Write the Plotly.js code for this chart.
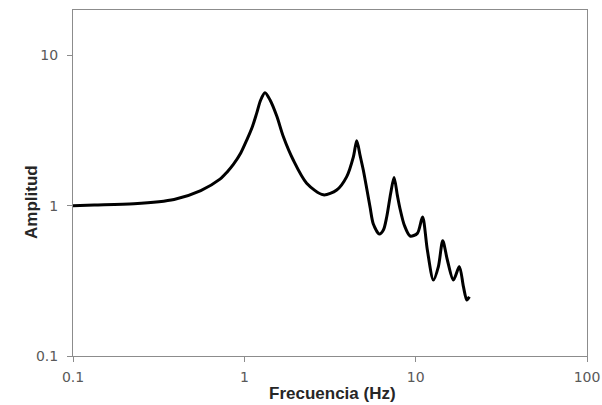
<!DOCTYPE html>
<html>
<head>
<meta charset="utf-8">
<script src="https://cdn.plot.ly/plotly-3.0.1.min.js"></script>
<style>
  html, body { margin: 0; padding: 0; background: #ffffff; }
  #chart { width: 602px; height: 405px; }
</style>
</head>
<body>
<div id="chart"></div>
<script>
// Frequency (Hz)
var frecuencia = [0.1, 0.133, 0.227, 0.389, 0.557, 0.721, 0.792, 0.863, 0.953, 1.033,
  1.114, 1.18, 1.246, 1.32, 1.413, 1.546, 1.69, 1.93, 2.31,
  2.89, 3.46, 3.96, 4.33, 4.53, 4.74, 4.95, 5.18, 5.42, 5.66,
  6.14, 6.48, 6.78, 7.15, 7.48, 7.82, 8.11, 8.59, 9.28, 10.23,
  10.97, 11.7, 12.69, 13.57, 14.39, 15.31, 16.6, 17.99, 19.0, 19.88,
  20.58];
// Amplitude
var amplitud = [1.00, 1.01, 1.03, 1.10, 1.26, 1.50, 1.67, 1.88, 2.24, 2.73,
  3.35, 4.11, 5.04, 5.63, 5.04, 3.94, 2.87, 2.01, 1.41,
  1.18, 1.27, 1.56, 2.11, 2.70, 2.15, 1.72, 1.30, 0.975, 0.755,
  0.647, 0.688, 0.844, 1.21, 1.54, 1.17, 0.95, 0.74, 0.628, 0.654,
  0.84, 0.507, 0.32, 0.393, 0.584, 0.435, 0.32, 0.393, 0.289, 0.236,
  0.248];

var xTickVals = [0.1, 1, 10, 100];
var xTickText = ['0.1', '1', '10', '100'];
var yTickVals = [0.1, 1, 10];
var yTickText = ['0.1', '1', '10'];

var xTitle = 'Frecuencia (Hz)';
var yTitle = 'Amplitud';

var axisColor = '#8c8c8c';
var tickFont = {family: 'DejaVu Sans', size: 14, color: '#595959'};
var titleFont = {family: 'Liberation Sans, Arial, sans-serif', size: 17, color: '#262626', weight: 'bold'};

var trace = {
  x: frecuencia,
  y: amplitud,
  type: 'scatter',
  mode: 'lines',
  line: {color: '#000000', width: 3, shape: 'spline', smoothing: 0.8},
  hoverinfo: 'skip'
};

var layout = {
  width: 602,
  height: 405,
  margin: {l: 73, r: 15, t: 10, b: 49},
  paper_bgcolor: '#ffffff',
  plot_bgcolor: '#ffffff',
  showlegend: false,
  xaxis: {
    type: 'log',
    range: [-1, 2],
    tickvals: xTickVals,
    ticktext: xTickText,
    ticks: 'outside',
    ticklen: 5,
    tickwidth: 1,
    tickcolor: axisColor,
    showline: true,
    linecolor: axisColor,
    linewidth: 1,
    mirror: true,
    showgrid: false,
    zeroline: false,
    tickfont: tickFont,
    ticklabelstandoff: 3
  },
  yaxis: {
    type: 'log',
    range: [-1, Math.log10(20)],
    tickvals: yTickVals,
    ticktext: yTickText,
    ticks: 'outside',
    ticklen: 5,
    tickwidth: 1,
    tickcolor: axisColor,
    showline: true,
    linecolor: axisColor,
    linewidth: 1,
    mirror: true,
    showgrid: false,
    zeroline: false,
    tickfont: tickFont,
    ticklabelstandoff: 6
  },
  annotations: [
    {
      text: xTitle,
      xref: 'paper', yref: 'paper',
      x: (332 - 73) / 514, y: (356 - 393) / 346,
      xanchor: 'center', yanchor: 'middle',
      showarrow: false,
      font: titleFont
    },
    {
      text: yTitle,
      xref: 'paper', yref: 'paper',
      x: (31.5 - 73) / 514, y: (356 - 202.5) / 346,
      xanchor: 'center', yanchor: 'middle',
      textangle: -90,
      showarrow: false,
      font: titleFont
    }
  ]
};

Plotly.newPlot('chart', [trace], layout, {displayModeBar: false, staticPlot: true});
</script>
</body>
</html>
